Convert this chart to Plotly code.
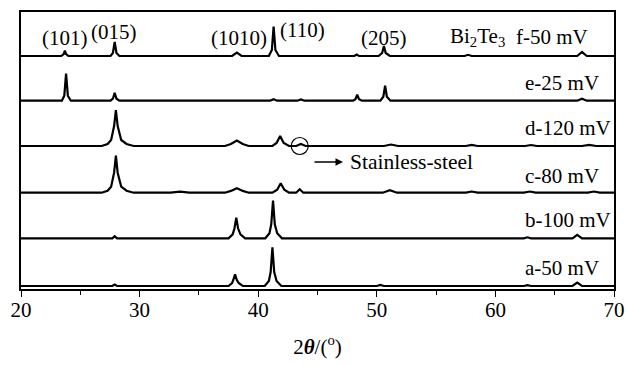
import plotly.graph_objects as go

# ---- data (2theta in degrees, intensity in arbitrary units relative to each baseline) ----
labels = ["a-50 mV", "b-100 mV", "c-80 mV", "d-120 mV", "e-25 mV", "f-50 mV"]
offsets = [3, 50.7, 96.3, 143, 188.3, 233]

a_x = [20, 27.7, 27.9, 28.1, 37.5, 37.8, 37.9, 38.05, 38.2, 38.35, 38.7, 40.55, 40.9, 41.05, 41.2, 41.35, 41.55, 41.95,
       50.0, 50.3, 50.6, 62.4, 62.7, 63.0, 66.5, 66.9, 67.3, 70]
a_y = [0, 0, 1.5, 0, 0, 3, 6, 11.7, 6, 3, 0, 0, 5, 14, 38.7, 14, 5, 0,
       0, 1, 0, 0, 0.8, 0, 0, 3.3, 0, 0]

b_x = [20, 27.7, 27.9, 28.1, 37.5, 37.85, 38.0, 38.15, 38.3, 38.5, 38.9, 40.6, 40.95, 41.1, 41.25, 41.4, 41.6, 42.0,
       62.4, 62.7, 63.0, 66.5, 66.9, 67.3, 70]
b_y = [0, 0, 2, 0, 0, 4, 10, 20.7, 10, 4, 0, 0, 5, 14, 37.7, 14, 5, 0,
       0, 1, 0, 0, 3.5, 0, 0]

c_x = [20, 26.8, 27.3, 27.6, 27.85, 28.0, 28.15, 28.45, 28.9, 29.5, 32.6, 33.4, 34.2, 37.2, 37.7, 38.2, 38.7, 39.2,
       41.2, 41.6, 41.9, 42.2, 42.6, 43.2, 43.5, 43.8, 50.5, 51.1, 51.7, 57.5, 58.0, 58.5, 62.4, 62.9, 63.4,
       67.8, 68.3, 68.8, 70]
c_y = [0, 0, 2, 6, 20, 37, 20, 6, 2, 0, 0, 1, 0, 0, 1.8, 4.5, 1.8, 0,
       0, 3, 9.5, 3, 0, 0, 3.5, 0, 0, 2.5, 0, 0, 1.2, 0, 0, 1.2, 0,
       0, 1.2, 0, 0]

d_x = [20, 26.8, 27.3, 27.6, 27.85, 28.0, 28.15, 28.45, 28.9, 29.5, 37.2, 37.7, 38.2, 38.7, 39.2,
       41.2, 41.55, 41.85, 42.15, 42.6, 43.2, 43.6, 44.0, 50.6, 51.2, 51.8, 57.5, 58.0, 58.5, 62.5, 63.0, 63.5,
       67.3, 67.9, 68.5, 70]
d_y = [0, 0, 2, 6, 20, 36, 20, 6, 2, 0, 0, 2, 5.5, 2, 0,
       0, 3, 10, 3, 0, 0, 2, 0, 0, 1.5, 0, 0, 1.2, 0, 0, 1, 0,
       0, 1.2, 0, 0]

e_x = [20, 23.45, 23.65, 23.8, 23.95, 24.2, 27.55, 27.75, 27.9, 28.05, 28.3, 41.0, 41.3, 41.6, 43.3, 43.6, 43.9,
       48.0, 48.2, 48.35, 48.5, 48.75, 50.3, 50.55, 50.7, 50.85, 51.15, 66.9, 67.3, 67.7, 70]
e_y = [0, 0, 5, 27, 5, 0, 0, 2, 8, 2, 0, 0, 1.5, 0, 0, 1.2, 0,
       0, 1.5, 6, 1.5, 0, 0, 4, 15, 4, 0, 0, 2, 0, 0]

f_x = [20, 23.4, 23.6, 23.7, 23.8, 24.0, 27.55, 27.75, 27.9, 28.05, 28.3, 37.8, 38.2, 38.6, 40.9, 41.15, 41.3, 41.45,
       41.75, 48.1, 48.3, 48.5, 50.15, 50.45, 50.6, 50.75, 51.1, 57.4, 57.7, 58.0, 66.9, 67.3, 67.7, 70]
f_y = [0, 0, 2, 5.5, 2, 0, 0, 3, 14, 3, 0, 0, 3.5, 0, 0, 6, 29.5, 6,
       0, 0, 1.5, 0, 0, 3, 10, 3, 0, 0, 1.2, 0, 0, 4, 0, 0]

series_x = [a_x, b_x, c_x, d_x, e_x, f_x]
series_y = [a_y, b_y, c_y, d_y, e_y, f_y]

peak_labels = ["(101)", "(015)", "(1010)", "(110)", "(205)"]
peak_label_x = [23.75, 27.85, 38.4, 43.7, 50.6]
peak_label_y = [251.5, 257, 251.5, 259, 251]

label_x = [62.33, 62.33, 62.33, 62.33, 62.33, 64.73]
label_anchor = ["left", "left", "left", "left", "left", "center"]
label_y = [21, 69, 113, 161, 206, 252]

x_ticks = [20, 30, 40, 50, 60, 70]

FONT = "Liberation Serif, Times New Roman, serif"
TXT = 21

fig = go.Figure()
for xs, ys, off in zip(series_x, series_y, offsets):
    fig.add_trace(go.Scatter(x=xs, y=[v + off for v in ys], mode="lines",
                             line=dict(color="black", width=2.2), showlegend=False,
                             hoverinfo="skip"))

annotations = []
for t, x, y in zip(peak_labels, peak_label_x, peak_label_y):
    annotations.append(dict(x=x, y=y, xref="x", yref="y", text=t, showarrow=False,
                            font=dict(family=FONT, size=TXT, color="black")))
annotations.append(dict(x=58.45, y=252, xref="x", yref="y", text="Bi<sub>2</sub>Te<sub>3</sub>",
                        showarrow=False, font=dict(family=FONT, size=TXT, color="black")))
for t, x, y, anc in zip(labels, label_x, label_y, label_anchor):
    annotations.append(dict(x=x, y=y, xref="x", yref="y", text=t, showarrow=False, xanchor=anc,
                            font=dict(family=FONT, size=TXT, color="black")))
# stainless-steel marker
annotations.append(dict(x=47.15, y=127, xref="x", yref="y", ax=-30, ay=0,
                        text="", showarrow=True, arrowhead=2, arrowsize=1, arrowwidth=1.5,
                        arrowcolor="black"))
annotations.append(dict(x=47.6, y=127, xref="x", yref="y", text="Stainless-steel", showarrow=False,
                        xanchor="left", font=dict(family=FONT, size=21.5, color="black")))

fig.add_shape(type="circle", xref="x", yref="y", x0=43.5 - 0.72, x1=43.5 + 0.72,
              y0=143 - 8.5, y1=143 + 8.5, line=dict(color="black", width=1.2))

fig.update_layout(
    width=626, height=365,
    margin=dict(l=21, r=12, t=12, b=76, autoexpand=False),
    paper_bgcolor="white", plot_bgcolor="white",
    annotations=annotations,
    font=dict(family=FONT, size=21, color="black"),
    xaxis=dict(range=[20, 70], tickvals=x_ticks, ticktext=[str(v) for v in x_ticks],
               ticks="outside", ticklen=6, tickwidth=1.2, tickcolor="black",
               minor=dict(dtick=5, ticks="outside", ticklen=4, tickwidth=1.2, tickcolor="black", tick0=20),
               showline=True, linecolor="black", linewidth=1.5, mirror=True, showgrid=False, zeroline=False,
               tickfont=dict(family=FONT, size=21, color="black"), automargin=False,
               ticklabelstandoff=-5,
               title=dict(text="2<b><i>θ</i></b>/(<sup>o</sup>)", font=dict(family=FONT, size=21, color="black"),
                          standoff=18)),
    yaxis=dict(range=[0, 277], showticklabels=False, ticks="", showline=True, linecolor="black",
               linewidth=1.5, mirror=True, showgrid=False, zeroline=False, automargin=False),
)

fig.write_html("out.html", config={"displayModeBar": False},
               post_script="document.body.style.margin='0px';")
